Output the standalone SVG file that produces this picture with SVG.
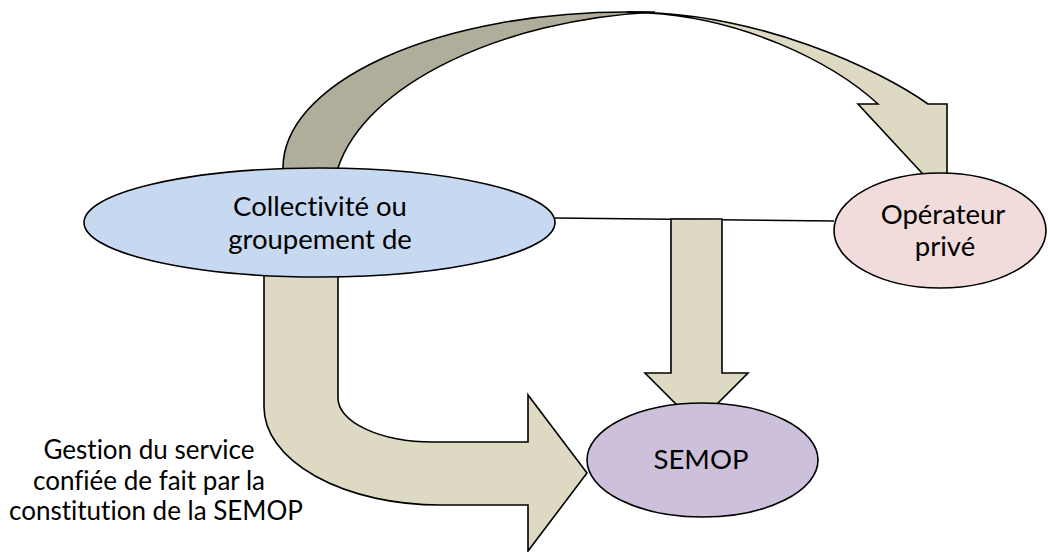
<svg xmlns="http://www.w3.org/2000/svg" width="1048" height="552" viewBox="0 0 1048 552">
<style>
.node{stroke:#000;stroke-width:1.6}
.arrow{stroke:#000;stroke-width:1.6;stroke-linejoin:miter}
.light{fill:#ddd9c3}
.dark{fill:#b0ad9a}
.t{font-family:Lato,"Open Sans",sans-serif;fill:#000;text-anchor:middle;font-variant-ligatures:none}
.nt{font-size:27.5px}
.lt{font-size:26px}
</style>
<g id="connectors">
<path d="M555,218 L834,221" fill="none" stroke="#000" stroke-width="1.4"/>
<path class="arrow dark" d="M283,182 L283,168 A344 156 0 0 1 627,12 L655,12 C500,20 365,85 338,168 L338,182 Z"/>
<path class="arrow light" d="M627,12 C760,12 880,70 928,104 L947,104 L947,200 L858,104 L878,104 C830,60 740,18 648,13 Z"/>
<path class="arrow light" d="M264,265 L264,407 A176 98 0 0 0 440,505 L528,505 L528,551 L587,473 L528,395 L528,442 L433,442 A95 44 0 0 1 338,398 L338,265 Z"/>
<path class="arrow light" d="M671,219 L722,219 L722,373 L748,373 L696.5,424.5 L645,373 L671,373 Z"/>
</g>
<g id="collectivite">
<ellipse class="node" cx="319.5" cy="222.5" rx="235.5" ry="54.5" fill="#c6d9f1"/>
<text class="t nt" x="320" y="216">Collectivité ou</text>
<text class="t nt" x="320" y="249">groupement de</text>
</g>
<g id="operateur">
<ellipse class="node" cx="940" cy="230.5" rx="106" ry="57.5" fill="#f2dcdb"/>
<text class="t nt" x="943" y="224">Opérateur</text>
<text class="t nt" x="945" y="256">privé</text>
</g>
<g id="semop">
<ellipse class="node" cx="702.5" cy="460" rx="115.5" ry="57" fill="#ccc0da"/>
<text class="t nt" x="701" y="469">SEMOP</text>
</g>
<g id="label">
<text class="t lt" x="149" y="459">Gestion du service</text>
<text class="t lt" x="149" y="490">confiée de fait par la</text>
<text class="t lt" x="156" y="520">constitution de la SEMOP</text>
</g>
</svg>
